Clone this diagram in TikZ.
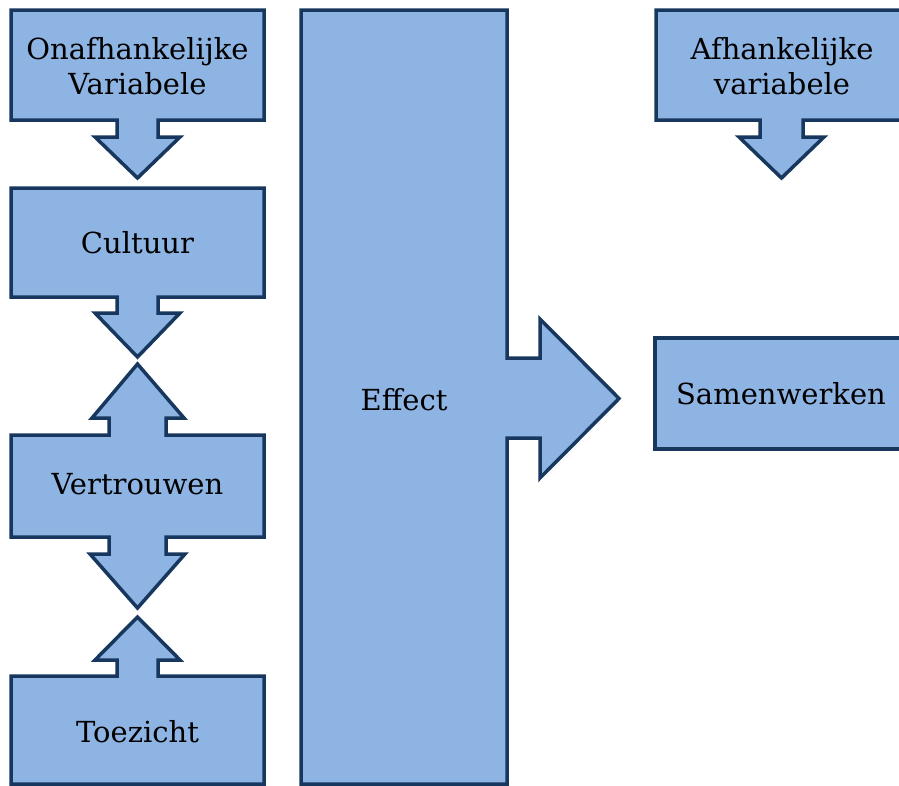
\documentclass[tikz,border=0pt]{standalone}
\usepackage{fontspec}
\setmainfont{DejaVu Serif}
\definecolor{boxfill}{HTML}{8EB4E3}
\definecolor{boxline}{HTML}{17375E}
\begin{document}
\begin{tikzpicture}[x=1pt,y=-1pt,
    blockshape/.style={fill=boxfill,draw=boxline,line width=3.5pt,line join=miter},
    blocktext/.style={font=\fontsize{29}{35}\selectfont,align=center,text=black,inner sep=0pt}]
\useasboundingbox (0,0) rectangle (899,785);
\begin{scope}
\clip (0,0) rectangle (899,785);
% Onafhankelijke variabele, arrow down
\draw[blockshape] (11,10) -- (264,10) -- (264,120) -- (158,120) -- (158,137) -- (180,137)
  -- (137.5,178) -- (95,137) -- (117,137) -- (117,120) -- (11,120) -- cycle;
% Cultuur, arrow down
\draw[blockshape] (11,188) -- (264,188) -- (264,297) -- (158,297) -- (158,313) -- (180,313)
  -- (137.5,357) -- (95,313) -- (117,313) -- (117,297) -- (11,297) -- cycle;
% Vertrouwen, arrows up and down
\draw[blockshape] (11,435) -- (109,435) -- (109,418) -- (92,418) -- (137.5,364) -- (184,418)
  -- (166,418) -- (166,435) -- (264,435) -- (264,537) -- (166,537) -- (166,554)
  -- (185,554) -- (137.5,608) -- (90,554) -- (109,554) -- (109,537) -- (11,537) -- cycle;
% Toezicht, arrow up
\draw[blockshape] (11,676) -- (117,676) -- (117,660) -- (95,660) -- (137.5,617) -- (180,660)
  -- (158,660) -- (158,676) -- (264,676) -- (264,784) -- (11,784) -- cycle;
% Effect, arrow right
\draw[blockshape] (301,10) -- (507,10) -- (507,358) -- (540,358) -- (540,319) -- (619,398.5)
  -- (540,478) -- (540,438) -- (507,438) -- (507,784) -- (301,784) -- cycle;
% Afhankelijke variabele, arrow down
\draw[blockshape] (656,10) -- (908,10) -- (908,120) -- (803,120) -- (803,137) -- (824,137)
  -- (781.5,178) -- (739,137) -- (760,137) -- (760,120) -- (656,120) -- cycle;
% Samenwerken
\draw[blockshape] (655,338) rectangle (908,449);
\end{scope}
\node[blocktext] (onafh) at (137.5,66) {Onafhankelijke\\Variabele};
\node[blocktext] (cultuur) at (137.5,243) {Cultuur};
\node[blocktext] (vertrouwen) at (137.5,484) {Vertrouwen};
\node[blocktext] (toezicht) at (137.5,732) {Toezicht};
\node[blocktext] (effect) at (404,400) {Effect};
\node[blocktext] (afh) at (782,66) {Afhankelijke\\variabele};
\node[blocktext] (samen) at (781,394) {Samenwerken};
\end{tikzpicture}
\end{document}
